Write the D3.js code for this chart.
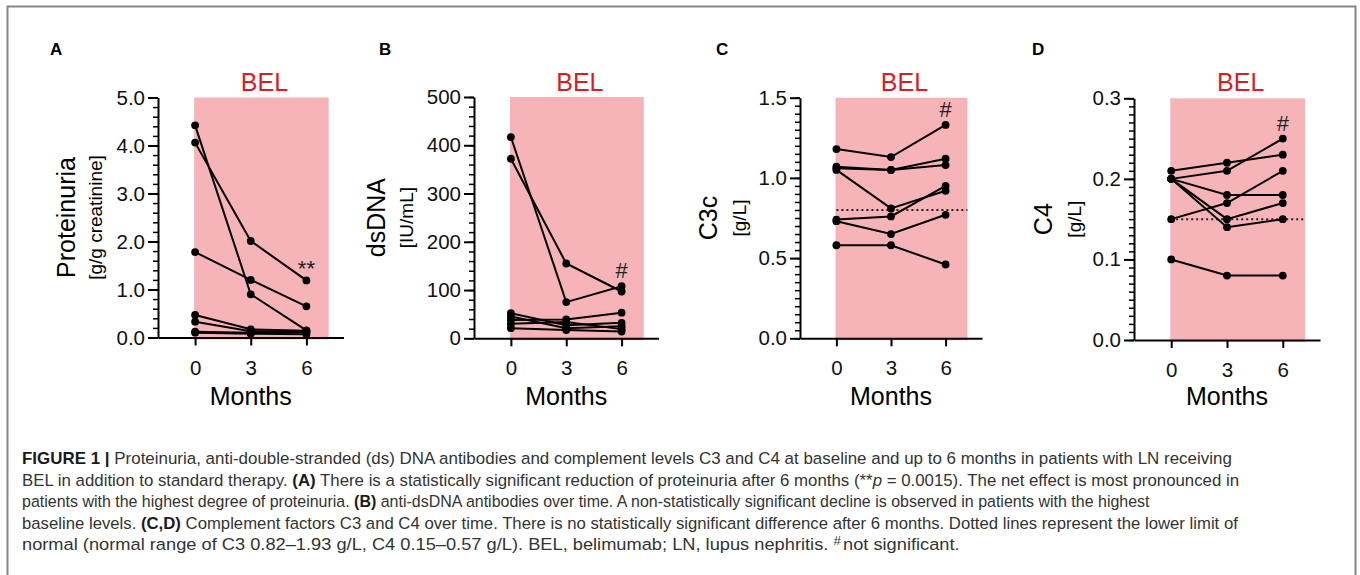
<!DOCTYPE html>
<html>
<head>
<meta charset="utf-8">
<script src="https://cdn.jsdelivr.net/npm/d3@7"></script>
<style>
  body { margin: 0; background: #fff; }
  svg { display: block; font-family: "Liberation Sans", Arial, sans-serif; }
</style>
</head>
<body>
<script>
// months on the x axis
var months = [0, 3, 6];

// one row per patient: value at 0, 3 and 6 months
var proteinuria = [
  [4.42, 0.90, 0.15],
  [4.06, 2.01, 1.19],
  [1.78, 1.20, 0.65],
  [0.47, 0.17, 0.14],
  [0.33, 0.13, 0.11],
  [0.12, 0.10, 0.12],
  [0.10, 0.08, 0.07]
];
var dsDNA = [
  [417, 75, 108],
  [372, 155, 97],
  [52, 27, 32],
  [45, 21, 25],
  [38, 39, 53],
  [30, 34, 19],
  [21, 17, 14]
];
var c3c = [
  [1.18, 1.13, 1.33],
  [1.07, 1.05, 1.12],
  [1.06, 1.05, 1.08],
  [1.05, 0.81, 0.92],
  [0.74, 0.76, 0.95],
  [0.73, 0.65, 0.77],
  [0.58, 0.58, 0.46]
];
var c4 = [
  [0.21, 0.22, 0.23],
  [0.20, 0.21, 0.25],
  [0.20, 0.18, 0.18],
  [0.15, 0.17, 0.21],
  [0.20, 0.15, 0.17],
  [0.20, 0.14, 0.15],
  [0.10, 0.08, 0.08]
];

// y axis ticks, minor tick step, lower limit of normal
var yTicksA = [0, 1, 2, 3, 4, 5];
var yTicksB = [0, 100, 200, 300, 400, 500];
var yTicksC = [0, 0.5, 1.0, 1.5];
var yTicksD = [0, 0.1, 0.2, 0.3];
var minorSteps = [0.2, 20, 0.05, 0.01];
var lowerLimits = [null, null, 0.8, 0.15];

var panelLetters = ["A", "B", "C", "D"];
var yTitles = ["Proteinuria", "dsDNA", "C3c", "C4"];
var yUnits = ["[g/g creatinine]", "[IU/mL]", "[g/L]", "[g/L]"];
var sigMarks = ["**", "#", "#", "#"];
var bandLabel = "BEL";
var xTitle = "Months";

var panelData = [proteinuria, dsDNA, c3c, c4];
var panelTicks = [yTicksA, yTicksB, yTicksC, yTicksD];
var tickFormats = [".1f", "d", ".1f", ".1f"];

// pixel layout of each panel
var layout = [
  {x0: 158, x1: 343.5, y0: 97.5, y1: 337.5, letterX: 50,   titleDx: -83, unitDx: -56, sigDy: -4},
  {x0: 474, x1: 658.5, y0: 97,   y1: 338.3, letterX: 379,  titleDx: -89, unitDx: -61, sigDy: -8},
  {x0: 800, x1: 982,   y0: 97.7, y1: 338.3, letterX: 716,  titleDx: -83, unitDx: -54, sigDy: -8},
  {x0: 1134, x1: 1320, y0: 98.3, y1: 340,   letterX: 1032, titleDx: -82, unitDx: -53, sigDy: -8}
];

var svg = d3.select("body").append("svg")
    .attr("width", 1360)
    .attr("height", 575);

// figure frame
svg.append("rect")
    .attr("x", 7.5).attr("y", 6.5)
    .attr("width", 1348).attr("height", 600)
    .attr("fill", "none")
    .attr("stroke", "#858585")
    .attr("stroke-width", 2);

function drawPanel(i) {
  var L = layout[i];
  var data = panelData[i];
  var ticks = panelTicks[i];
  var yMax = ticks[ticks.length - 1];

  var x = d3.scaleLinear().domain([-2, 8]).range([L.x0, L.x1]);
  var y = d3.scaleLinear().domain([0, yMax]).range([L.y1, L.y0]);

  var g = svg.append("g");

  // BEL treatment band
  var bx0 = x(-0.05), bx1 = x(7.2);
  g.append("rect")
      .attr("x", bx0)
      .attr("y", y(yMax))
      .attr("width", bx1 - bx0)
      .attr("height", y(0) - y(yMax) + 2)
      .attr("fill", "#f6b3b8");

  g.append("text")
      .attr("x", (bx0 + bx1) / 2 + 3)
      .attr("y", 91)
      .attr("text-anchor", "middle")
      .attr("font-size", 25)
      .attr("fill", "#d71e28")
      .text(bandLabel);

  // panel letter
  svg.append("text")
      .attr("x", L.letterX)
      .attr("y", 55)
      .attr("font-size", 17)
      .attr("font-weight", "bold")
      .text(panelLetters[i]);

  // lower limit of normal
  if (lowerLimits[i] !== null) {
    g.append("line")
        .attr("x1", x(0)).attr("x2", bx1)
        .attr("y1", y(lowerLimits[i])).attr("y2", y(lowerLimits[i]))
        .attr("stroke", "#222")
        .attr("stroke-width", 2)
        .attr("stroke-dasharray", "2,3");
  }

  // minor y ticks
  var minor = d3.range(0, yMax + minorSteps[i] / 2, minorSteps[i]);
  g.append("g")
      .attr("transform", "translate(" + L.x0 + ",0)")
      .call(d3.axisLeft(y).tickValues(minor).tickSize(5).tickSizeOuter(0).tickFormat(""))
      .call(function(a) {
        a.select(".domain").remove();
        a.selectAll("line").attr("stroke-width", 1.5);
      });

  // major y axis
  g.append("g")
      .attr("transform", "translate(" + L.x0 + ",0)")
      .call(d3.axisLeft(y).tickValues(ticks).tickSize(10).tickSizeOuter(0)
        .tickPadding(3).tickFormat(d3.format(tickFormats[i])))
      .call(function(a) {
        a.select(".domain").attr("stroke-width", 2);
        a.selectAll("line").attr("stroke-width", 2);
        a.selectAll("text").attr("font-size", 20.5).attr("fill", "#111")
            .attr("font-family", "Liberation Sans, Arial, sans-serif");
      });

  // x axis
  g.append("g")
      .attr("transform", "translate(0," + L.y1 + ")")
      .call(d3.axisBottom(x).tickValues(months).tickSize(8).tickSizeOuter(0)
        .tickPadding(14.5).tickFormat(d3.format("d")))
      .call(function(a) {
        a.select(".domain").attr("stroke-width", 2);
        a.selectAll("line").attr("stroke-width", 2);
        a.selectAll("text").attr("font-size", 20.5).attr("fill", "#111")
            .attr("font-family", "Liberation Sans, Arial, sans-serif");
      });

  g.append("text")
      .attr("x", x(3))
      .attr("y", 405)
      .attr("text-anchor", "middle")
      .attr("font-size", 25)
      .text(xTitle);

  // y titles
  var yc = (L.y0 + L.y1) / 2;
  g.append("text")
      .attr("transform", "translate(" + (L.x0 + L.titleDx) + "," + yc + ") rotate(-90)")
      .attr("text-anchor", "middle")
      .attr("font-size", 25)
      .text(yTitles[i]);
  g.append("text")
      .attr("transform", "translate(" + (L.x0 + L.unitDx) + "," + yc + ") rotate(-90)")
      .attr("text-anchor", "middle")
      .attr("font-size", 19)
      .text(yUnits[i]);

  // patient lines and dots
  var line = d3.line()
      .x(function(d, j) { return x(months[j]); })
      .y(function(d) { return y(d); });

  g.append("g").selectAll("path")
      .data(data)
      .enter()
      .append("path")
        .attr("d", line)
        .attr("fill", "none")
        .attr("stroke", "#000")
        .attr("stroke-width", 2);

  data.forEach(function(row) {
    g.append("g").selectAll("circle")
        .data(row)
        .enter()
        .append("circle")
          .attr("cx", function(d, j) { return x(months[j]); })
          .attr("cy", function(d) { return y(d); })
          .attr("r", 3.9)
          .attr("fill", "#000");
  });

  // significance mark above the highest 6 month value
  var top6 = d3.max(data, function(r) { return r[2]; });
  g.append("text")
      .attr("x", x(6))
      .attr("y", y(top6) + L.sigDy)
      .attr("text-anchor", "middle")
      .attr("font-size", 22)
      .attr("fill", "#222")
      .text(sigMarks[i]);
}

for (var i = 0; i < 4; i++) drawPanel(i);

// caption, each line squeezed to the width of the original
var captionLines = [
  [["FIGURE 1 |", "b"], [" Proteinuria, anti-double-stranded (ds) DNA antibodies and complement levels C3 and C4 at baseline and up to 6 months in patients with LN receiving", ""]],
  [["BEL in addition to standard therapy. ", ""], ["(A)", "b"], [" There is a statistically significant reduction of proteinuria after 6 months (**", ""], ["p", "i"], [" = 0.0015). The net effect is most pronounced in", ""]],
  [["patients with the highest degree of proteinuria. ", ""], ["(B)", "b"], [" anti-dsDNA antibodies over time. A non-statistically significant decline is observed in patients with the highest", ""]],
  [["baseline levels. ", ""], ["(C,D)", "b"], [" Complement factors C3 and C4 over time. There is no statistically significant difference after 6 months. Dotted lines represent the lower limit of", ""]],
  [["normal (normal range of C3 0.82\u20131.93 g/L, C4 0.15\u20130.57 g/L). BEL, belimumab; LN, lupus nephritis. ", ""], ["#", "sup"], ["not significant.", "after"]]
];
var captionEnds = [1232, 1240, 1150, 1238, 958];
var captionX = 22;
var captionY = [464, 485.5, 507, 528.5, 550];

captionLines.forEach(function(parts, k) {
  var t = svg.append("text")
      .attr("font-size", 16.5)
      .attr("fill", "#333");
  parts.forEach(function(p) {
    var s = t.append("tspan").text(p[0]);
    if (p[1] === "b") s.attr("font-weight", "bold").attr("fill", "#1a1a1a");
    if (p[1] === "i") s.attr("font-style", "italic");
    if (p[1] === "sup") s.attr("font-size", 12).attr("dy", -5);
    if (p[1] === "after") s.attr("dy", 5).attr("dx", 2);
  });
  var w = t.node().getComputedTextLength();
  var sx = (captionEnds[k] - captionX) / w;
  t.attr("transform", "translate(" + captionX + "," + captionY[k] + ") scale(" + sx + ",1)");
});
</script>
</body>
</html>
